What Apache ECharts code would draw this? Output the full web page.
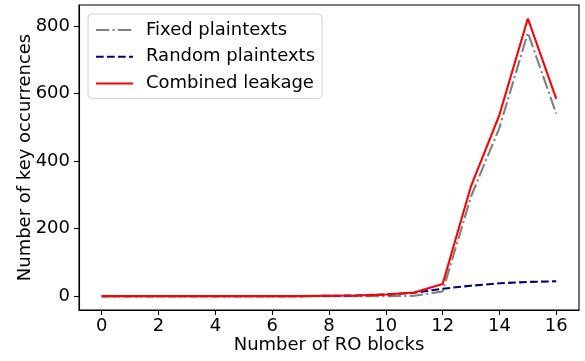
<!DOCTYPE html>
<html>
<head>
<meta charset="utf-8">
<script src="https://cdn.jsdelivr.net/npm/echarts@6/dist/echarts.min.js"></script>
<style>html,body{margin:0;padding:0;background:#fff}#c{width:585px;height:361px}</style>
</head>
<body>
<div id="c"></div>
<script>
const roBlocks = [0,1,2,3,4,5,6,7,8,9,10,11,12,13,14,15,16];
const fixedPlaintexts = [0,0,0,0,0,0,0,0,0,0,0,1,14,295,499,780,540];
const randomPlaintexts = [0,0,0,0,0,0,0,0,1,2,5,10,22,31,38,42,44];
const combinedLeakage = [0,0,0,0,0,0,0,0,1,2,5,11,36,326,537,822,584];
const xTicks = [0,2,4,6,8,10,12,14,16];
const yTicks = [0,200,400,600,800];

const pairs = (ys) => roBlocks.map((x, i) => [x, ys[i]]);
const font = 'DejaVu Sans';
const fs = 18;
const chart = echarts.init(document.getElementById('c'), null, {renderer: 'canvas'});
chart.setOption({
  animation: false,
  backgroundColor: '#fff',
  grid: {left: 79, right: 6, top: 5, bottom: 51, show: true, borderColor: '#000', borderWidth: 1.1, containLabel: false, outerBoundsMode: 'none'},
  xAxis: {
    type: 'value', min: -0.8, max: 16.8,
    name: 'Number of RO blocks', nameLocation: 'middle', nameGap: 26, nameMoveOverlap: false,
    nameTextStyle: {fontFamily: font, fontSize: fs, color: '#000'},
    axisLine: {show: true, onZero: false, lineStyle: {color: '#000', width: 1.1}},
    axisTick: {show: true, length: 5, customValues: xTicks, lineStyle: {color: '#000', width: 1.1}},
    axisLabel: {customValues: xTicks, margin: 7, fontFamily: font, fontSize: fs, color: '#000'},
    splitLine: {show: false}
  },
  yAxis: {
    type: 'value', min: -41, max: 862,
    name: 'Number of key occurrences', nameLocation: 'middle', nameGap: 45, nameMoveOverlap: false,
    nameTextStyle: {fontFamily: font, fontSize: fs, color: '#000'},
    axisLine: {show: true, onZero: false, lineStyle: {color: '#000', width: 1.1}},
    axisTick: {show: true, length: 5, customValues: yTicks, lineStyle: {color: '#000', width: 1.1}},
    axisLabel: {customValues: yTicks, margin: 9, fontFamily: font, fontSize: fs, color: '#000'},
    splitLine: {show: false}
  },
  legend: {
    orient: 'vertical', left: 88, top: 14,
    padding: [6, 7, 5, 7],
    itemWidth: 37, itemHeight: 20, itemGap: 6.7,
    borderColor: '#d0d0d0', borderWidth: 1, borderRadius: 4,
    backgroundColor: 'rgba(255,255,255,0.8)',
    itemStyle: {opacity: 0},
    textStyle: {fontFamily: font, fontSize: fs, color: '#000', lineHeight: 20, padding: [0,0,0,8]},
    data: ['Fixed plaintexts', 'Random plaintexts', 'Combined leakage']
  },
  series: [
    {name: 'Fixed plaintexts', type: 'line', data: pairs(fixedPlaintexts), symbol: 'none', color: '#808080',
     lineStyle: {color: '#808080', width: 2.1, type: [13.3, 3.3, 2.1, 3.3]}},
    {name: 'Random plaintexts', type: 'line', data: pairs(randomPlaintexts), symbol: 'none', color: '#000080',
     lineStyle: {color: '#000080', width: 2.1, type: [7.7, 3.3]}},
    {name: 'Combined leakage', type: 'line', data: pairs(combinedLeakage), symbol: 'none', color: '#ff0000',
     lineStyle: {color: '#ff0000', width: 2.1, type: 'solid'}}
  ]
});
</script>
</body>
</html>
